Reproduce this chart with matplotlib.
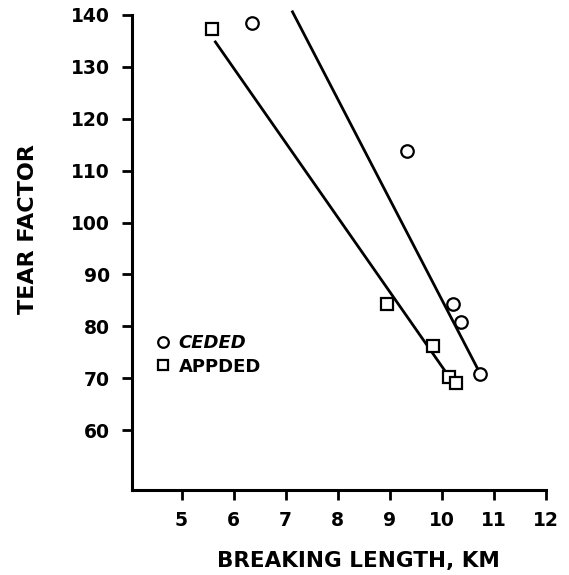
import numpy as np
import matplotlib.pyplot as plt

ceded_x = [6.35, 9.33, 10.21, 10.37, 10.73]
ceded_y = [138.5, 113.8, 84.4, 80.8, 70.8]
appded_x = [5.58, 8.94, 9.83, 10.13, 10.27]
appded_y = [137.3, 84.4, 76.2, 70.2, 69.0]

# fitted lines (endpoints as drawn)
ceded_line_x = [7.13, 10.67]
ceded_line_y = [140.6, 72.1]
appded_line_x = [5.65, 10.10]
appded_line_y = [134.8, 70.8]

xticks = [5, 6, 7, 8, 9, 10, 11, 12]
yticks = [60, 70, 80, 90, 100, 110, 120, 130, 140]

plt.rcParams['font.family'] = ['DejaVu Sans']
plt.rcParams['font.weight'] = 'bold'

fig = plt.figure(figsize=(5.69, 5.75), dpi=100)
ax = fig.add_axes([0.232, 0.148, 0.728, 0.826])

ax.plot(ceded_line_x, ceded_line_y, color='black', lw=2, clip_on=False)
ax.plot(appded_line_x, appded_line_y, color='black', lw=2, clip_on=False)
ax.plot(ceded_x, ceded_y, 'o', ms=9, mfc='white', mec='black', mew=1.6,
        ls='none', label='CEDED', clip_on=False)
ax.plot(appded_x, appded_y, 's', ms=8.5, mfc='white', mec='black', mew=1.6,
        ls='none', label='APPDED', clip_on=False)

ax.set_xlim(4.05, 12)
ax.set_ylim(48.5, 140)
ax.set_xticks(xticks)
ax.set_yticks(yticks)
ax.tick_params(labelsize=13.5, width=2, length=7)
ax.tick_params(axis='y', pad=9)
ax.tick_params(axis='x', pad=8)

for s in ['top', 'right']:
    ax.spines[s].set_visible(False)
for s in ['left', 'bottom']:
    ax.spines[s].set_linewidth(2.2)

ax.set_xlabel('BREAKING LENGTH, KM', fontsize=15.5, fontweight='bold')
ax.set_ylabel('TEAR FACTOR', fontsize=16, fontweight='bold')
ax.xaxis.set_label_coords(0.546, -0.128)
ax.yaxis.set_label_coords(-0.226, 0.55)

leg = ax.legend(loc='upper left', bbox_to_anchor=(0.025, 0.362), frameon=False,
                handlelength=0.5, handletextpad=0.6, labelspacing=0.3,
                markerscale=0.85, prop={'size': 13, 'weight': 'bold'})
leg.get_texts()[0].set_style('italic')

fig.savefig('out.png', dpi=100)
